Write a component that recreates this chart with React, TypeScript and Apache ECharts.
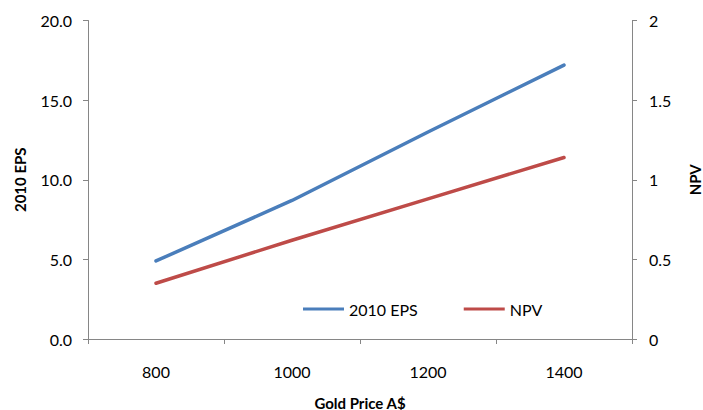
import React, { useEffect, useRef } from "react";
import * as echarts from "echarts";

const categories = ["800", "1000", "1200", "1400"];
const epsValues = [4.9, 8.7, 13.0, 17.2];
const npvValues = [0.35, 0.62, 0.88, 1.14];
const seriesNames = ["2010 EPS", "NPV"];

const FONT = "Lato, 'Open Sans', sans-serif";

export default function App() {
  const ref = useRef<HTMLDivElement>(null);
  useEffect(() => {
    document.body.style.margin = "0";
    document.body.style.overflow = "hidden";
    if (!ref.current) return;
    const chart = echarts.init(ref.current, null, { renderer: "svg" });
    chart.setOption({
      animation: false,
      backgroundColor: "#ffffff",
      textStyle: { fontFamily: FONT },
      grid: { left: 88, right: 71, top: 20.5, bottom: 71, containLabel: false, outerBoundsMode: "none" },
      legend: {
        data: seriesNames,
        left: 298,
        top: 296,
        itemWidth: 41,
        itemHeight: 3,
        itemGap: 46,
        icon: "rect",
        textStyle: { fontFamily: FONT, fontSize: 16, color: "#000" },
      },
      xAxis: {
        type: "category",
        data: categories,
        boundaryGap: true,
        name: "Gold Price A$",
        nameLocation: "middle",
        nameGap: 56,
        nameTextStyle: { fontFamily: FONT, fontSize: 15, fontWeight: "bold", color: "#000" },
        axisLine: { lineStyle: { color: "#868686", width: 1 } },
        axisTick: { show: true, interval: 0, length: 5, lineStyle: { color: "#868686" } },
        axisLabel: { fontFamily: FONT, fontSize: 16, color: "#000", margin: 24 },
        splitLine: { show: false },
      },
      yAxis: [
        {
          type: "value",
          min: 0,
          max: 20,
          interval: 5,
          name: "2010 EPS",
          nameLocation: "middle",
          nameRotate: 90,
          nameGap: 61,
          nameTextStyle: { fontFamily: FONT, fontSize: 15, fontWeight: "bold", color: "#000" },
          axisLine: { show: true, lineStyle: { color: "#868686", width: 1 } },
          axisTick: { show: true, length: 5, lineStyle: { color: "#868686" } },
          axisLabel: {
            fontFamily: FONT,
            fontSize: 16,
            color: "#000",
            margin: 16,
            formatter: (v: number) => v.toFixed(1),
          },
          splitLine: { show: false },
        },
        {
          type: "value",
          min: 0,
          max: 2,
          interval: 0.5,
          position: "right",
          name: "NPV",
          nameLocation: "middle",
          nameRotate: 90,
          nameGap: 55,
          nameTextStyle: { fontFamily: FONT, fontSize: 15, fontWeight: "bold", color: "#000" },
          axisLine: { show: true, lineStyle: { color: "#868686", width: 1 } },
          axisTick: { show: true, length: 5, lineStyle: { color: "#868686" } },
          axisLabel: { fontFamily: FONT, fontSize: 16, color: "#000", margin: 17 },
          splitLine: { show: false },
        },
      ],
      series: [
        {
          name: seriesNames[0],
          type: "line",
          yAxisIndex: 0,
          data: epsValues,
          symbol: "none",
          color: "#4A7EBB",
          lineStyle: { width: 3.5, color: "#4A7EBB", cap: "round" },
        },
        {
          name: seriesNames[1],
          type: "line",
          yAxisIndex: 1,
          data: npvValues,
          symbol: "none",
          color: "#BE4B48",
          lineStyle: { width: 3.5, color: "#BE4B48", cap: "round" },
        },
      ],
    });
    return () => chart.dispose();
  }, []);
  return <div ref={ref} style={{ width: 703, height: 410, position: "absolute", left: 0, top: 0 }} />;
}
